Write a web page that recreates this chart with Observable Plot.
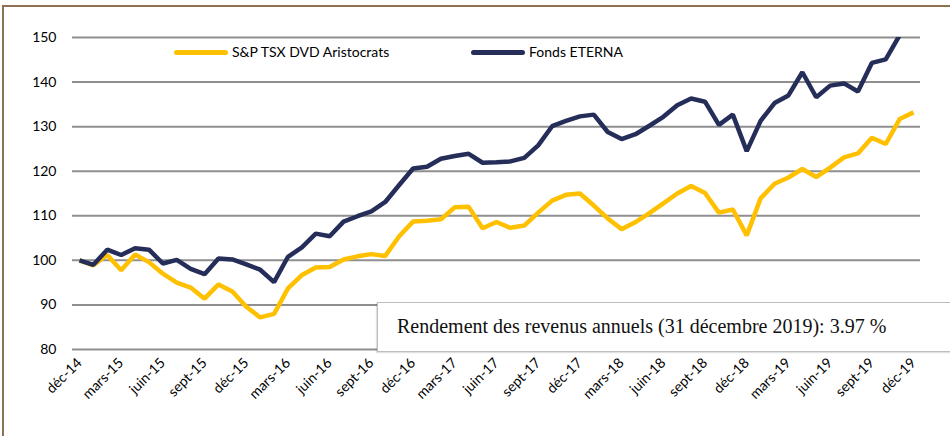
<!DOCTYPE html>
<html>
<head>
<meta charset="utf-8">
<script src="https://cdn.jsdelivr.net/npm/d3@7"></script>
<script src="https://cdn.jsdelivr.net/npm/@observablehq/plot@0.6"></script>
<style>
  html, body { margin: 0; padding: 0; background: #fff; overflow: hidden; }
  #wrap { position: relative; width: 950px; height: 436px; overflow: hidden; }
  #frame { position: absolute; left: 2px; top: 5px; width: 1000px; height: 500px;
           border-top: 2px solid #8d7150; border-left: 2px solid #8d7150; box-sizing: border-box; }
  #chart { position: absolute; left: 0; top: 0; }
  .leg { position: absolute; top: 43px; font: 14px Lato, sans-serif; color: #000; white-space: nowrap; }
  .sw { position: absolute; height: 5px; border-radius: 3px; top: 50px; }
  #box { position: absolute; left: 377px; top: 302px; width: 620px; height: 50px; box-sizing: border-box;
         border: 1.5px solid #bdbdbd; background: #fff; box-shadow: -1px 1px 1px rgba(0,0,0,0.12);
         font: 20px "Liberation Serif", serif; color: #111; padding-left: 19px; line-height: 47px; }
</style>
</head>
<body>
<div id="wrap">
  <div id="frame"></div>
  <div id="chart"></div>
</div>
<script>
// Tick labels (every 3 months, déc-14 .. déc-19)
const tickLabels = ["déc-14","mars-15","juin-15","sept-15","déc-15","mars-16","juin-16","sept-16",
  "déc-16","mars-17","juin-17","sept-17","déc-17","mars-18","juin-18","sept-18","déc-18",
  "mars-19","juin-19","sept-19","déc-19"];

// Series names
const seriesNames = ["S&P TSX DVD Aristocrats", "Fonds ETERNA"];

// Monthly values, déc-14 .. déc-19 (61 months)
const aristocrats = [100,98.9,101.2,97.8,101.3,99.6,97.0,95.0,93.9,91.4,94.6,93.0,89.6,87.2,88.0,
  93.7,96.7,98.4,98.5,100.2,100.9,101.4,101.0,105.4,108.7,108.9,109.2,111.9,112.0,107.2,108.6,
  107.3,107.8,110.7,113.4,114.7,115.0,112.3,109.4,107.0,108.6,110.6,112.8,115.0,116.7,115.1,
  110.7,111.4,105.6,113.9,117.2,118.6,120.5,118.7,120.8,123.1,124.0,127.5,126.1,131.7,133.2];
const eterna = [100,99.0,102.4,101.2,102.7,102.4,99.3,100.1,98.1,96.9,100.4,100.2,99.1,97.9,95.1,
  100.8,102.9,106.0,105.4,108.7,109.9,111.0,113.1,116.9,120.6,121.0,122.8,123.4,123.9,121.9,122.0,
  122.2,123.0,125.8,130.1,131.3,132.3,132.7,128.8,127.2,128.3,130.2,132.2,134.8,136.3,135.6,
  130.4,132.7,124.5,131.3,135.3,137.0,142.2,136.6,139.2,139.7,137.9,144.3,145.1,150.5,154.0];

const yTicks = [80,90,100,110,120,130,140,150];
const colors = ["#ffc000", "#252d59"];
const annotation = "Rendement des revenus annuels (31 décembre 2019): 3.97 %";

const rows = [];
aristocrats.forEach((v, i) => rows.push({i, v, s: seriesNames[0]}));
eterna.forEach((v, i) => rows.push({i, v, s: seriesNames[1]}));
const tickIdx = tickLabels.map((_, k) => k * 3);

const chart = Plot.plot({
  width: 950,
  height: 436,
  marginTop: 37,
  marginBottom: 87,
  marginLeft: 72,
  marginRight: 30,
  style: {background: "transparent", fontFamily: "Lato, sans-serif", fontSize: "14px", color: "#000"},
  x: {type: "linear", domain: [-0.5, aristocrats.length - 0.5]},
  y: {domain: [80, 150]},
  color: {domain: seriesNames, range: colors},
  marks: [
    Plot.ruleY(yTicks, {stroke: "#8f8f8f", strokeWidth: 2}),
    Plot.axisY({ticks: yTicks, tickSize: 0, tickPadding: 16, label: null, fontSize: 14}),
    Plot.axisX({ticks: tickIdx, tickFormat: d => tickLabels[d / 3], tickSize: 0, tickPadding: 11,
      tickRotate: -45, label: null, fontSize: 14}),
    Plot.line(rows, {x: "i", y: "v", z: "s", stroke: "s", strokeWidth: 4.5, clip: true,
      strokeLinejoin: "miter", strokeLinecap: "butt"})
  ]
});
document.getElementById("chart").appendChild(chart);

// Legend
const wrap = document.getElementById("wrap");
const legPos = [{sx: 174, tx: 232}, {sx: 471, tx: 529}];
seriesNames.forEach((n, k) => {
  const sw = document.createElement("div");
  sw.className = "sw";
  sw.style.left = legPos[k].sx + "px";
  sw.style.width = "54px";
  sw.style.background = colors[k];
  wrap.appendChild(sw);
  const t = document.createElement("div");
  t.className = "leg";
  t.style.left = legPos[k].tx + "px";
  t.textContent = n;
  wrap.appendChild(t);
});

// Annotation box
const box = document.createElement("div");
box.id = "box";
box.textContent = annotation;
wrap.appendChild(box);
</script>
</body>
</html>
